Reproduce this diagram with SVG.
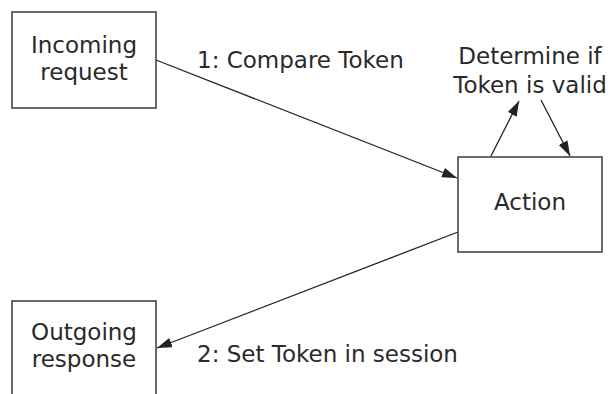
<svg xmlns="http://www.w3.org/2000/svg" width="610" height="394" viewBox="0 0 610 394">
<style>
.box{fill:#fff;stroke:#3a3a3a;stroke-width:1.5}
.t{font-family:"DejaVu Sans",sans-serif;font-size:23px;fill:#2a2a2a;text-anchor:middle}
.l{font-family:"DejaVu Sans",sans-serif;font-size:23px;fill:#2a2a2a}
.c{stroke:#222;stroke-width:1.3;fill:none;marker-end:url(#ah)}
</style>
<defs>
<marker id="ah" markerWidth="16" markerHeight="10" refX="15" refY="5" orient="auto" markerUnits="userSpaceOnUse">
<path d="M0,0 L15,5 L0,10 z" fill="#222"/>
</marker>
</defs>
<rect width="610" height="394" fill="#fff"/>
<g id="connectors">
<line class="c" x1="156" y1="60" x2="457" y2="178"/>
<line class="c" x1="458" y1="232" x2="157" y2="348"/>
<line class="c" x1="491" y1="156" x2="519" y2="101"/>
<line class="c" x1="541" y1="100" x2="570" y2="156"/>
<text class="l" x="197" y="68">1: Compare Token</text>
<text class="l" x="197" y="362">2: Set Token in session</text>
<text class="t" x="530" y="64">Determine if</text>
<text class="t" x="530" y="93">Token is valid</text>
</g>
<g id="incoming">
<rect class="box" x="12" y="12" width="144" height="96"/>
<text class="t" x="84" y="53">Incoming</text>
<text class="t" x="84" y="80">request</text>
</g>
<g id="action">
<rect class="box" x="458" y="157" width="144" height="95"/>
<text class="t" x="530" y="210">Action</text>
</g>
<g id="outgoing">
<rect class="box" x="12" y="301" width="144" height="110"/>
<text class="t" x="84" y="340">Outgoing</text>
<text class="t" x="84" y="367">response</text>
</g>
</svg>
